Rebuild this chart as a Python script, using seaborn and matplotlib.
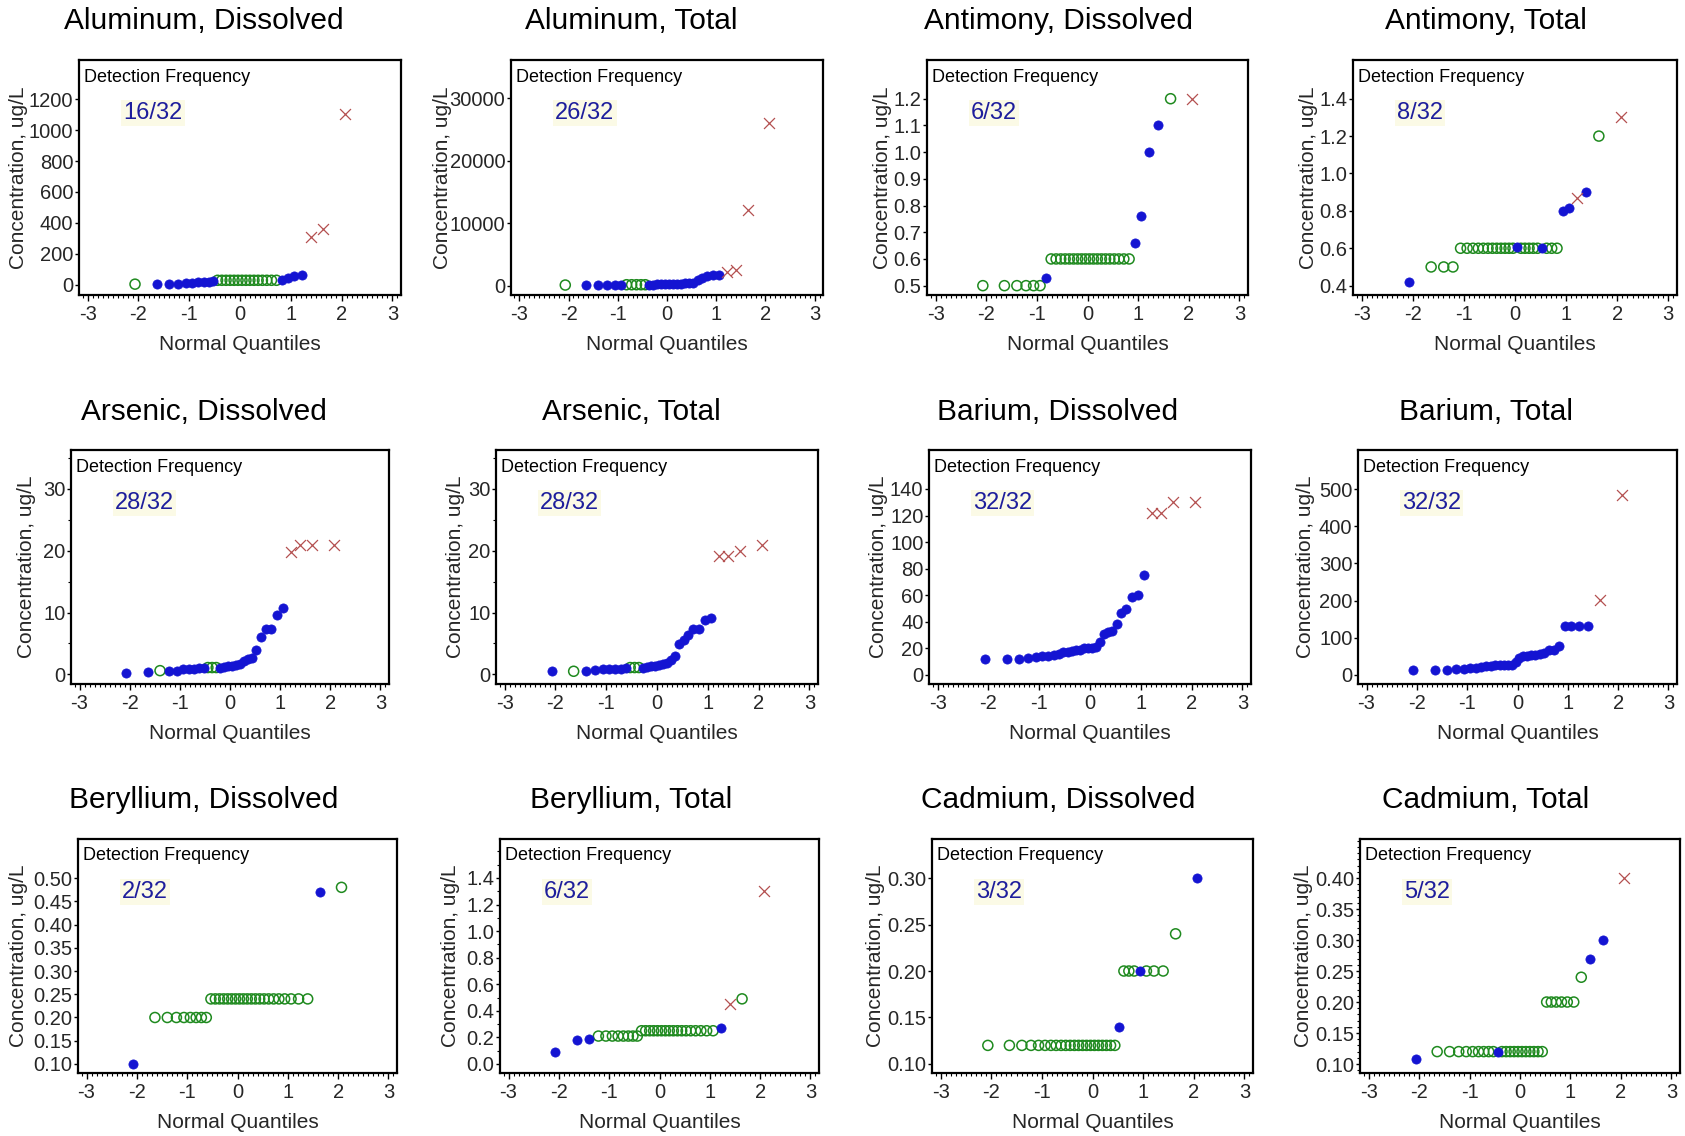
import numpy as np
import pandas as pd
import matplotlib
matplotlib.use("Agg")
import matplotlib.pyplot as plt
from matplotlib.ticker import FixedLocator, MultipleLocator, FormatStrFormatter
import seaborn as sns

# normal quantiles of the 32 ranked samples (x axis of every panel)
normal_q = [-2.067, -1.641, -1.395, -1.214, -1.065, -0.937, -0.822, -0.718,
            -0.620, -0.528, -0.441, -0.357, -0.275, -0.195, -0.117, -0.039,
            0.039, 0.117, 0.195, 0.275, 0.357, 0.441, 0.528, 0.620,
            0.718, 0.822, 0.937, 1.065, 1.214, 1.395, 1.641, 2.067]

titles = ["Aluminum, Dissolved", "Aluminum, Total", "Antimony, Dissolved", "Antimony, Total",
          "Arsenic, Dissolved", "Arsenic, Total", "Barium, Dissolved", "Barium, Total",
          "Beryllium, Dissolved", "Beryllium, Total", "Cadmium, Dissolved", "Cadmium, Total"]
det_freq = ["16/32", "26/32", "6/32", "8/32", "28/32", "28/32",
            "32/32", "32/32", "2/32", "6/32", "3/32", "5/32"]

# concentrations (ug/L) sorted; kind: D = detect, N = non-detect, X = outlier
al_diss = [5, 5, 6, 8, 12, 15, 17, 18, 20, 25, 30, 30, 30, 30, 30, 30,
           30, 30, 30, 30, 30, 30, 30, 30, 30, 32, 43, 58, 65, 312, 359, 1103]
al_diss_kind = "NDDDDDDDDDNNNNNNNNNNNNNNNDDDDXXX"

al_tot = [100, 100, 120, 130, 140, 150, 150, 150, 150, 150, 150, 150, 170, 190, 210, 230,
          250, 270, 300, 320, 350, 380, 400, 900, 1300, 1600, 1650, 1650, 2250, 2500, 12100, 26100]
al_tot_kind = "NDDDDDNNNNNDDDDDDDDDDDDDDDDDXXXX"

sb_diss = [0.5, 0.5, 0.5, 0.5, 0.5, 0.5, 0.53, 0.6, 0.6, 0.6, 0.6, 0.6, 0.6, 0.6, 0.6, 0.6,
           0.6, 0.6, 0.6, 0.6, 0.6, 0.6, 0.6, 0.6, 0.6, 0.6, 0.66, 0.76, 1.0, 1.1, 1.2, 1.2]
sb_diss_kind = "NNNNNNDNNNNNNNNNNNNNNNNNNNDDDDNX"

sb_tot = [0.42, 0.5, 0.5, 0.5, 0.6, 0.6, 0.6, 0.6, 0.6, 0.6, 0.6, 0.6, 0.6, 0.6, 0.6, 0.6,
          0.605, 0.6, 0.6, 0.6, 0.6, 0.6, 0.6, 0.6, 0.6, 0.6, 0.8, 0.815, 0.87, 0.9, 1.2, 1.3]
sb_tot_kind = "DNNNNNNNNNNNNNNNDNNNNNDNNNDDXDNX"

as_diss = [0.3, 0.4, 0.6, 0.5, 0.6, 0.8, 0.9, 0.9, 1.0, 1.0, 1.1, 1.1, 1.1, 1.1, 1.2, 1.3,
           1.4, 1.5, 1.6, 2.2, 2.5, 2.7, 4.0, 6.1, 7.3, 7.3, 9.6, 10.7, 19.8, 21.0, 21.0, 21.0]
as_diss_kind = "DDNDDDDDDDNNNDDDDDDDDDDDDDDDXXXX"

as_tot = [0.5, 0.5, 0.5, 0.7, 0.8, 0.8, 0.8, 0.9, 1.0, 1.1, 1.1, 1.1, 1.1, 1.2, 1.3, 1.4,
          1.5, 1.6, 1.9, 2.3, 2.9, 4.9, 5.6, 6.4, 7.3, 7.4, 8.8, 9.1, 19.1, 19.1, 19.9, 21.0]
as_tot_kind = "DNDDDDDDDNNNDDDDDDDDDDDDDDDDXXXX"

ba_diss = [12, 12, 12, 12.5, 13.5, 14, 14.5, 15, 16, 17, 17.5, 18, 18.5, 19, 20, 20,
           20.5, 21, 25, 31, 32, 33, 38, 47, 50, 59, 60, 75, 122, 122, 130, 130]
ba_diss_kind = "DDDDDDDDDDDDDDDDDDDDDDDDDDDDXXXX"

ba_tot = [14, 14, 14, 15, 17, 19, 20, 21, 23, 25, 26, 27, 27, 28, 28, 35,
          45, 50, 52, 54, 55, 56, 60, 66, 68, 79, 132, 132, 132, 132, 202, 485]
ba_tot_kind = "DDDDDDDDDDDDDDDDDDDDDDDDDDDDDDXX"

be_diss = [0.10, 0.20, 0.20, 0.20, 0.20, 0.20, 0.20, 0.20, 0.20, 0.24, 0.24, 0.24, 0.24, 0.24, 0.24, 0.24,
           0.24, 0.24, 0.24, 0.24, 0.24, 0.24, 0.24, 0.24, 0.24, 0.24, 0.24, 0.24, 0.24, 0.24, 0.47, 0.48]
be_diss_kind = "DNNNNNNNNNNNNNNNNNNNNNNNNNNNNNDN"

be_tot = [0.09, 0.18, 0.19, 0.21, 0.21, 0.21, 0.21, 0.21, 0.21, 0.21, 0.21, 0.25, 0.25, 0.25, 0.25, 0.25,
          0.25, 0.25, 0.25, 0.25, 0.25, 0.25, 0.25, 0.25, 0.25, 0.25, 0.25, 0.25, 0.27, 0.45, 0.49, 1.30]
be_tot_kind = "DDDNNNNNNNNNNNNNNNNNNNNNNNNNDXNX"

cd_diss = [0.12, 0.12, 0.12, 0.12, 0.12, 0.12, 0.12, 0.12, 0.12, 0.12, 0.12, 0.12, 0.12, 0.12, 0.12, 0.12,
           0.12, 0.12, 0.12, 0.12, 0.12, 0.12, 0.14, 0.20, 0.20, 0.20, 0.20, 0.20, 0.20, 0.20, 0.24, 0.30]
cd_diss_kind = "NNNNNNNNNNNNNNNNNNNNNNDNNNDNNNND"

cd_tot = [0.108, 0.12, 0.12, 0.12, 0.12, 0.12, 0.12, 0.12, 0.12, 0.12, 0.12, 0.12, 0.12, 0.12, 0.12, 0.12,
          0.12, 0.12, 0.12, 0.12, 0.12, 0.12, 0.20, 0.20, 0.20, 0.20, 0.20, 0.20, 0.24, 0.27, 0.30, 0.40]
cd_tot_kind = "DNNNNNNNNNDNNNNNNNNNNNNNNNNNNDDX"

series = [(al_diss, al_diss_kind), (al_tot, al_tot_kind), (sb_diss, sb_diss_kind), (sb_tot, sb_tot_kind),
          (as_diss, as_diss_kind), (as_tot, as_tot_kind), (ba_diss, ba_diss_kind), (ba_tot, ba_tot_kind),
          (be_diss, be_diss_kind), (be_tot, be_tot_kind), (cd_diss, cd_diss_kind), (cd_tot, cd_tot_kind)]

# y axis: limits, first tick, last tick, step, minor step, label format
y_axes = [(-65, 1452, 0, 1200, 200, None, "%d"),
          (-1495, 36140, 0, 30000, 10000, None, "%d"),
          (0.465, 1.345, 0.5, 1.2, 0.1, None, "%.1f"),
          (0.35, 1.607, 0.4, 1.4, 0.2, None, "%.1f"),
          (-1.56, 36.3, 0, 30, 10, 5, "%d"),
          (-1.56, 36.3, 0, 30, 10, 5, "%d"),
          (-6.8, 169.3, 0, 140, 20, None, "%d"),
          (-24.2, 605, 0, 500, 100, None, "%d"),
          (0.0806, 0.584, 0.10, 0.50, 0.05, None, "%.2f"),
          (-0.068, 1.693, 0.0, 1.4, 0.2, 0.1, "%.1f"),
          (0.0903, 0.342, 0.10, 0.30, 0.05, None, "%.2f"),
          (0.0855, 0.463, 0.10, 0.40, 0.05, 0.01, "%.2f")]

# axes boxes in pixels: left, right, top, bottom ; y-label centre offset
boxes = [(79, 401, 60, 295), (511, 823, 60, 295), (927, 1248, 60, 295), (1353, 1677, 60, 295),
         (71, 389, 450, 684), (496, 818, 450, 684), (929, 1251, 450, 684), (1358, 1677, 450, 684),
         (78, 397, 839, 1073), (500, 819, 839, 1073), (932, 1253, 839, 1073), (1360, 1680, 839, 1073)]
ylab_off = [60, 69, 45, 45, 44, 41, 51, 53, 59, 49, 57, 57]
title_x = [204, 631, 1058, 1486]
title_base = [29, 420, 808]

BLUE = "#1414d2"
GREEN = "#1f8a1f"
RED = "#b45050"
FRAC = "#1e1e9c"

sns.set_theme(style="ticks")
plt.rcParams["font.family"] = ["Liberation Sans", "DejaVu Sans"]
plt.rcParams["axes.unicode_minus"] = False

W, H = 1685, 1136
fig = plt.figure(figsize=(W / 100, H / 100), dpi=100)
px = 0.72  # points per pixel

for k, (vals, kind) in enumerate(series):
    l, r, t, b = boxes[k]
    ax = fig.add_axes([l / W, 1 - b / H, (r - l) / W, (b - t) / H])
    df = pd.DataFrame({"q": normal_q, "conc": vals, "kind": list(kind)})

    nd = df[df.kind == "N"]
    if len(nd):
        sns.scatterplot(data=nd, x="q", y="conc", ax=ax, marker="o", s=52,
                        facecolors="none", edgecolor=GREEN, linewidth=1.1, zorder=3)
    det = df[df.kind == "D"]
    if len(det):
        sns.scatterplot(data=det, x="q", y="conc", ax=ax, marker="o", s=44,
                        color=BLUE, edgecolor=BLUE, linewidth=0.5, zorder=4)
    out = df[df.kind == "X"]
    if len(out):
        sns.scatterplot(data=out, x="q", y="conc", ax=ax, marker="x", s=62,
                        color=RED, linewidth=0.9, zorder=4)

    lo, hi, t0, t1, step, minor, fmt = y_axes[k]
    ax.set_xlim(-3.17, 3.17)
    ax.set_ylim(lo, hi)
    ax.xaxis.set_major_locator(FixedLocator([-3, -2, -1, 0, 1, 2, 3]))
    ax.xaxis.set_minor_locator(MultipleLocator(0.1))
    n_ticks = int(round((t1 - t0) / step)) + 1
    ax.yaxis.set_major_locator(FixedLocator([t0 + i * step for i in range(n_ticks)]))
    ax.yaxis.set_major_formatter(FormatStrFormatter(fmt))
    if minor:
        ax.yaxis.set_minor_locator(MultipleLocator(minor))

    for sp in ax.spines.values():
        sp.set_visible(True)
        sp.set_linewidth(1.6)
        sp.set_color("black")
    ax.tick_params(axis="x", which="major", direction="out", length=4, width=1,
                   labelsize=14.5, pad=3, bottom=True, color="black")
    ax.tick_params(axis="x", which="minor", direction="out", length=2, width=0.8,
                   bottom=True, color="black")
    ax.tick_params(axis="y", which="major", direction="out", length=3, width=1,
                   labelsize=14.5, pad=1, left=True, color="black")
    ax.tick_params(axis="y", which="minor", direction="out", length=2, width=0.8,
                   left=True, color="black")

    w_px, h_px = r - l, b - t
    ax.set_xlabel("Normal Quantiles", fontsize=15)
    ax.xaxis.set_label_coords(0.5, -40 / h_px)
    ax.set_ylabel("Concentration, ug/L", fontsize=15, va="center")
    ax.yaxis.set_label_coords(-ylab_off[k] / w_px, 0.5)

    ax.annotate("Detection Frequency", xy=(0, 1), xycoords="axes fraction",
                xytext=(5 * px, -17 * px), textcoords="offset points",
                ha="left", va="center", fontsize=13, color="black")
    ax.annotate(det_freq[k], xy=(0, 1), xycoords="axes fraction",
                xytext=(44 * px, -53 * px), textcoords="offset points",
                ha="left", va="center", fontsize=17, color=FRAC,
                bbox=dict(boxstyle="square,pad=0.1", fc="#fbfae6", ec="none"))

    fig.text(title_x[k % 4] / W, 1 - title_base[k // 4] / H, titles[k],
             ha="center", va="baseline", fontsize=21.5, color="black")

fig.savefig("out.png", dpi=100, facecolor="white")
